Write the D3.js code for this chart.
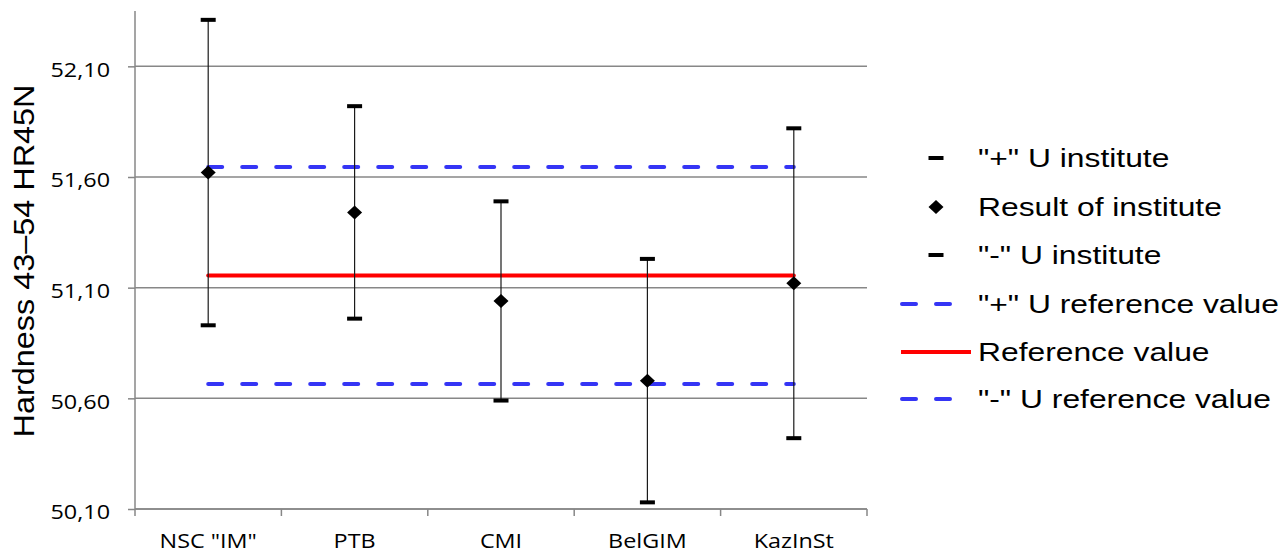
<!DOCTYPE html>
<html>
<head>
<meta charset="utf-8">
<script src="https://cdn.jsdelivr.net/npm/d3@7"></script>
<style>
  html, body { margin: 0; padding: 0; background: #fff; }
  svg { display: block; }
</style>
</head>
<body>
<svg id="chart" width="1283" height="555"></svg>
<script>
// Interlaboratory comparison: hardness results with expanded uncertainty
const categories = ['NSC "IM"', 'PTB', 'CMI', 'BelGIM', 'KazInSt'];
const results = [51.62, 51.44, 51.04, 50.68, 51.12];
const upperU = [52.31, 51.92, 51.49, 51.23, 51.82];
const lowerU = [50.93, 50.96, 50.59, 50.13, 50.42];
const referenceValue = 51.155;
const referencePlusU = 51.645;
const referenceMinusU = 50.665;
const yTicks = [50.10, 50.60, 51.10, 51.60, 52.10];
const yTitle = "Hardness 43\u201354 HR45N";
const legendLabels = ['"+" U institute', 'Result of institute', '"-" U institute',
                      '"+" U reference value', 'Reference value', '"-" U reference value'];

const svg = d3.select("#chart");
const plot = { left: 135, right: 867, top: 11, bottom: 509 };

const x = d3.scaleBand().domain(categories).range([plot.left, plot.right]).padding(0);
const y = d3.scaleLinear().domain([50.10, 52.35]).range([plot.bottom, plot.top]);
const cx = c => x(c) + x.bandwidth() / 2;

const gridColor = "#878787";
const blue = "#3535f5";
const SX = 1.2; // horizontal text stretch

const fmt = v => d3.format(".2f")(v).replace(".", ",");

// horizontal gridlines
svg.append("g").selectAll("line").data(yTicks).join("line")
  .attr("x1", plot.left).attr("x2", plot.right)
  .attr("y1", d => y(d)).attr("y2", d => y(d))
  .attr("stroke", gridColor).attr("stroke-width", 1.5);

// y axis
const yAxis = svg.append("g").attr("transform", `translate(${plot.left},0)`)
  .call(d3.axisLeft(y).tickValues(yTicks).tickSize(7).tickPadding(0).tickFormat(fmt));
yAxis.select(".domain").attr("stroke", gridColor).attr("stroke-width", 1.5)
  .attr("d", `M0,${plot.top}V${plot.bottom}`);
yAxis.selectAll(".tick line").attr("stroke", gridColor).attr("stroke-width", 1.5);
yAxis.selectAll(".tick text")
  .attr("x", null).attr("dy", null)
  .attr("font-family", "'Open Sans', sans-serif").attr("font-size", 19.5)
  .attr("fill", "#000").attr("text-anchor", "end")
  .attr("dominant-baseline", "central")
  .attr("transform", `translate(-25,2) scale(${SX},1)`);

// x axis
const xAxis = svg.append("g").attr("transform", `translate(0,${plot.bottom})`)
  .call(d3.axisBottom(x).tickSize(0).tickPadding(0));
xAxis.select(".domain").attr("stroke", gridColor).attr("stroke-width", 1.5)
  .attr("d", `M${plot.left},0H${plot.right}`);
xAxis.selectAll(".tick text")
  .attr("y", null).attr("dy", null)
  .attr("font-family", "'Open Sans', sans-serif").attr("font-size", 20.5)
  .attr("fill", "#000").attr("text-anchor", "middle")
  .attr("transform", `translate(0,39) scale(1.14,1)`);
// category boundary ticks
const bounds = categories.map(c => x(c) + x.bandwidth()).concat([plot.left]);
svg.append("g").selectAll("line").data(bounds).join("line")
  .attr("x1", d => d).attr("x2", d => d)
  .attr("y1", plot.bottom).attr("y2", plot.bottom + 7)
  .attr("stroke", gridColor).attr("stroke-width", 1.5);

// reference value lines
const xStart = cx(categories[0]);
const xEnd = cx(categories[categories.length - 1]);
[referencePlusU, referenceMinusU].forEach(v => {
  svg.append("line")
    .attr("x1", xStart).attr("x2", xEnd).attr("y1", y(v)).attr("y2", y(v))
    .attr("stroke", blue).attr("stroke-width", 4)
    .attr("stroke-dasharray", "14,20").attr("stroke-linecap", "round");
});
svg.append("line")
  .attr("x1", xStart).attr("x2", xEnd)
  .attr("y1", y(referenceValue)).attr("y2", y(referenceValue))
  .attr("stroke", "#ff0000").attr("stroke-width", 4).attr("stroke-linecap", "round");

// error bars
const eb = svg.append("g");
categories.forEach((c, i) => {
  eb.append("line")
    .attr("x1", cx(c)).attr("x2", cx(c))
    .attr("y1", y(upperU[i])).attr("y2", y(lowerU[i]))
    .attr("stroke", "#1a1a1a").attr("stroke-width", 1.2);
});
const capW = 15, capH = 4;
eb.selectAll("rect.up").data(categories).join("rect").attr("class", "up")
  .attr("x", c => cx(c) - capW / 2).attr("y", (c, i) => y(upperU[i]) - capH / 2)
  .attr("width", capW).attr("height", capH).attr("fill", "#000");
eb.selectAll("rect.lo").data(categories).join("rect").attr("class", "lo")
  .attr("x", c => cx(c) - capW / 2).attr("y", (c, i) => y(lowerU[i]) - capH / 2)
  .attr("width", capW).attr("height", capH).attr("fill", "#000");

// institute results (diamonds)
const diamond = (w, h) => `M0,${-h}L${w},0L0,${h}L${-w},0Z`;
svg.append("g").selectAll("path").data(categories).join("path")
  .attr("d", diamond(7.5, 7))
  .attr("transform", (c, i) => `translate(${cx(c)},${y(results[i])})`)
  .attr("fill", "#000");

// legend
const legend = svg.append("g");
const legY = [158, 207, 255, 304, 352, 399];
const symX = 936;
legendLabels.forEach((label, i) => {
  const ly = legY[i];
  if (i === 0 || i === 2) {
    legend.append("rect").attr("x", symX - 7.5).attr("y", ly - 2).attr("width", 15).attr("height", 4).attr("fill", "#000");
  } else if (i === 1) {
    legend.append("path").attr("d", diamond(7.5, 7)).attr("transform", `translate(${symX},${ly})`).attr("fill", "#000");
  } else if (i === 3 || i === 5) {
    legend.append("line").attr("x1", 902).attr("x2", 952).attr("y1", ly).attr("y2", ly)
      .attr("stroke", blue).attr("stroke-width", 4)
      .attr("stroke-dasharray", "14,20").attr("stroke-linecap", "round");
  } else {
    legend.append("line").attr("x1", 901).attr("x2", 971).attr("y1", ly).attr("y2", ly)
      .attr("stroke", "#ff0000").attr("stroke-width", 4);
  }
  legend.append("text")
    .attr("transform", `translate(978,${ly}) scale(${SX},1)`)
    .attr("font-family", "'Liberation Sans', Arial, sans-serif").attr("font-size", 26.5)
    .attr("dominant-baseline", "central").attr("fill", "#000")
    .text(label);
});

// y axis title
svg.append("text")
  .attr("transform", `translate(24,261) rotate(-90) scale(1.08,1)`)
  .attr("font-family", "'Liberation Sans', Arial, sans-serif").attr("font-size", 30)
  .attr("text-anchor", "middle").attr("dominant-baseline", "central").attr("fill", "#000")
  .text(yTitle);
</script>
</body>
</html>
